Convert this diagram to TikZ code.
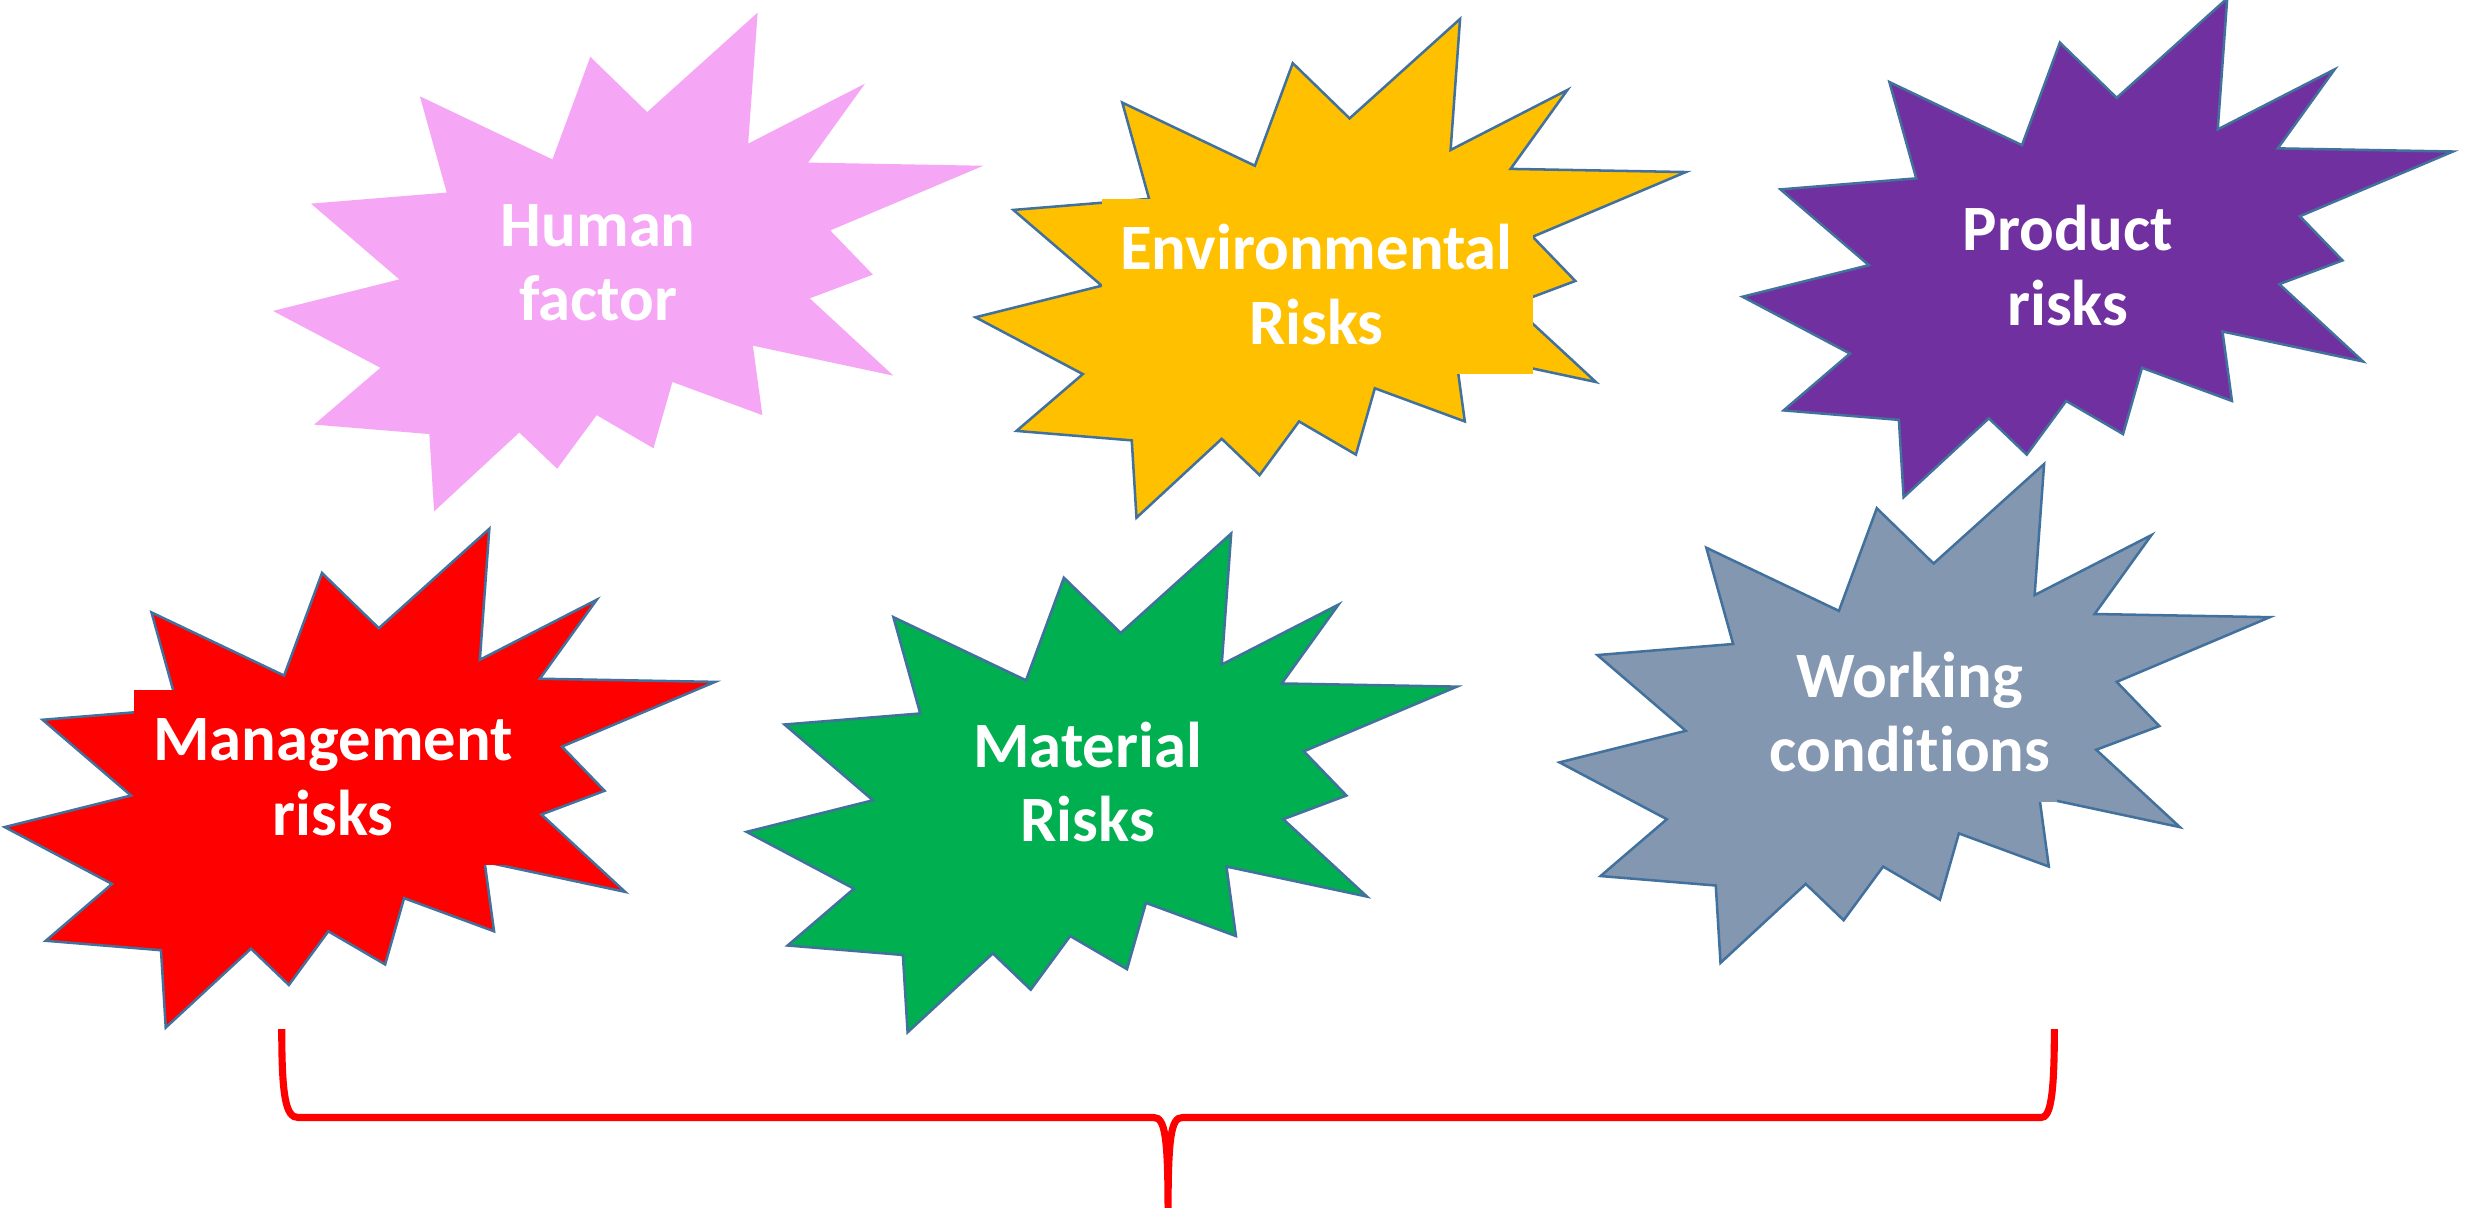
\documentclass[tikz,border=0pt]{standalone}
\usepackage{fontspec}
\setmainfont{Carlito}[Ligatures=NoCommon]
\definecolor{pinkf}{HTML}{F5A7F5}
\definecolor{yellowf}{HTML}{FFC000}
\definecolor{purplef}{HTML}{7030A0}
\definecolor{redf}{HTML}{FF0000}
\definecolor{greenf}{HTML}{00B050}
\definecolor{grayf}{HTML}{8497B0}
\definecolor{edgeb}{HTML}{41719C}
\newcommand\burstpath{(480,8) -- (474,91) -- (548,53) -- (512,103) -- (623,105) -- (526,146) -- (553,174) -- (513,189) -- (566,238) -- (477,219) -- (483,263) -- (426,242) -- (414,284) -- (378,263) -- (353,297) -- (329,274) -- (275,324) -- (272,275) -- (199,269) -- (241,233) -- (173,197) -- (253,177) -- (197,129) -- (283,122) -- (266,61) -- (350,101) -- (374,36) -- (410,71) -- cycle}
\begin{document}
\begin{tikzpicture}[x=1pt,y=-1pt,
  burst/.style={line width=1.6pt,draw=edgeb,line join=miter},
  label/.style={text=white,font=\fontsize{41}{47}\selectfont\bfseries,align=center,anchor=base,inner sep=0pt},
  bracestyle/.style={draw=redf,line width=4.5pt}]
\useasboundingbox (0,0) rectangle (1568,765);
% shapes
\fill[pinkf] \burstpath;
\path[burst,fill=yellowf,shift={(445,4)}] \burstpath;
\path[burst,fill=purplef,shift={(931,-9)}] \burstpath;
\path[burst,fill=redf,shift={(-170,327)}] \burstpath;
\path[burst,fill=greenf,shift={(300,330)}] \burstpath;
\path[burst,fill=grayf,shift={(815,286)}] \burstpath;
% text boxes covering outlines
\fill[yellowf] (698,126) rectangle (971,237);
\fill[redf] (85,437) rectangle (322,548);
\fill[grayf] (1117,400) rectangle (1303,508);
% labels
\node[label] (human) at (379,203) {Human\\factor};
\node[label] (env) at (834,218) {Environmental\\Risks};
\node[label] (prod) at (1310,206) {Product\\risks};
\node[label] (mgmt) at (211,529) {Management\\risks};
\node[label] (mat) at (689,533) {Material\\Risks};
\node[label] (work) at (1210,489) {Working\\conditions};
% brace
\coordinate (bl) at (178.5,652);
\coordinate (br) at (1301.5,652);
\coordinate (tip) at (740,768);
\draw[bracestyle] (bl) .. controls (178.5,695) and (181,708) .. (189,708) -- (731,708)
  .. controls (738,708) and (740,720) .. (tip)
  .. controls (740,720) and (742,708) .. (749,708) -- (1293,708)
  .. controls (1299,708) and (1301.5,695) .. (br);
\end{tikzpicture}
\end{document}
